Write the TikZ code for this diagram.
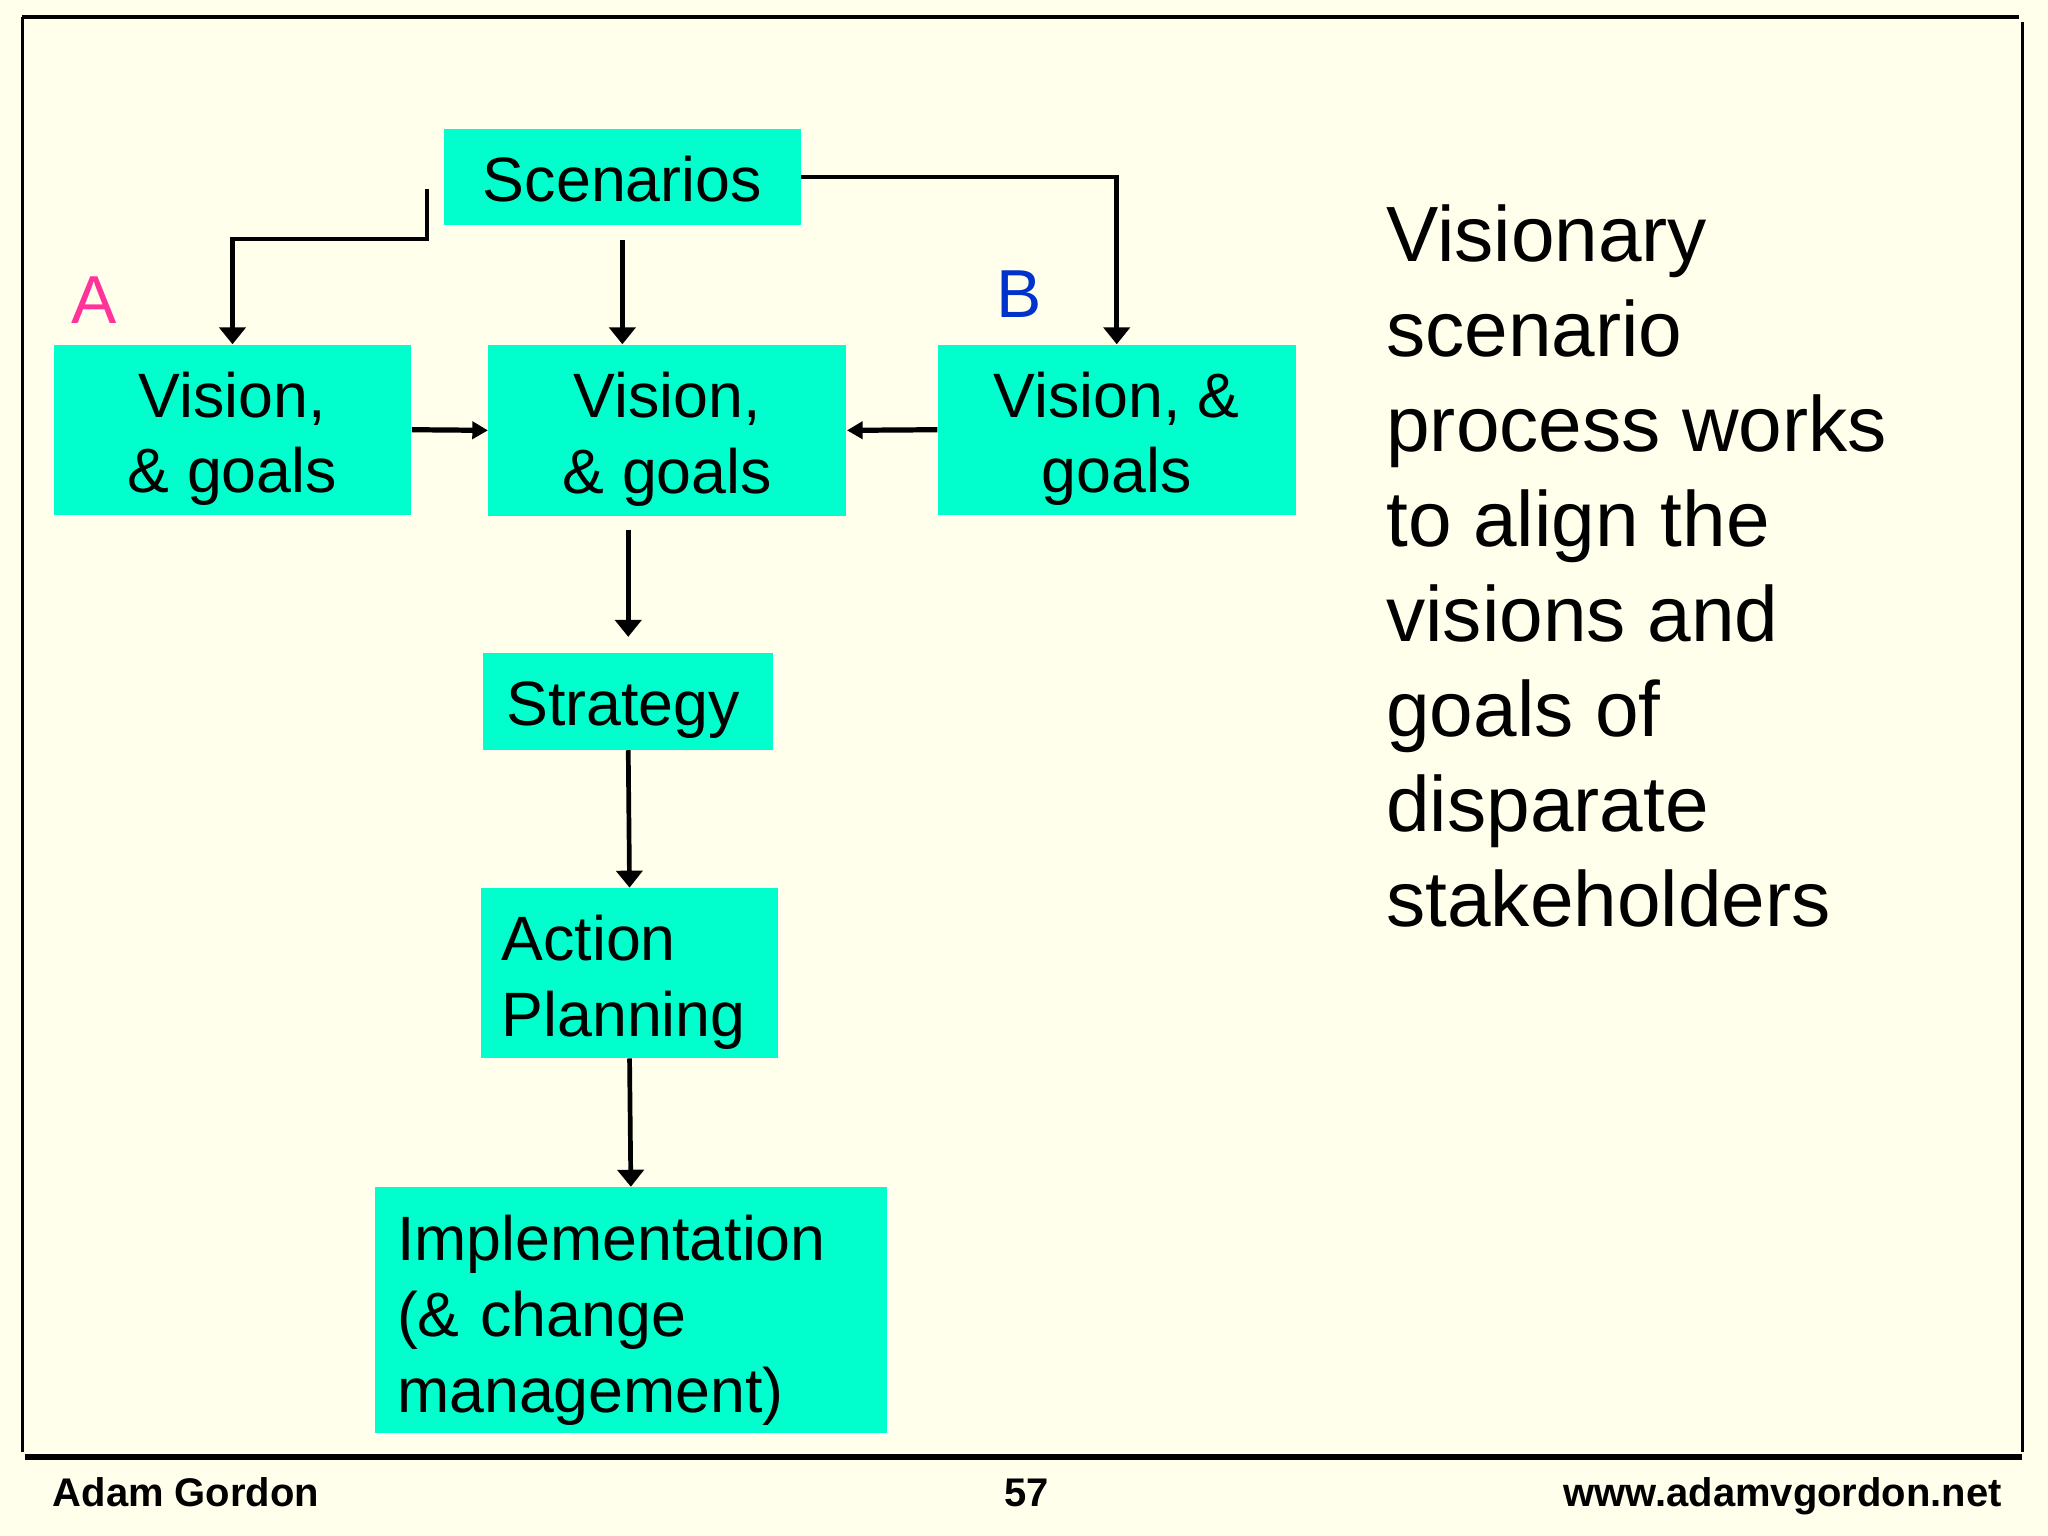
\documentclass[tikz,border=0pt]{standalone}
\usepackage{fontspec}
\setmainfont{Liberation Sans}
\usetikzlibrary{arrows.meta,calc}
\definecolor{bgc}{RGB}{255,255,235}
\definecolor{boxc}{RGB}{0,255,204}
\definecolor{pinkc}{RGB}{255,51,153}
\definecolor{bluec}{RGB}{0,51,204}
\tikzset{
  box/.style={fill=boxc, inner sep=0pt},
  btext/.style={inner sep=0pt, align=center, font=\fontsize{24}{29}\selectfont},
  ltext/.style={inner sep=0pt, align=left, font=\fontsize{24}{29}\selectfont},
  conn/.style={line width=1.8pt, -{Triangle[length=6.5pt,width=10pt]}},
  harrow/.style={line width=2pt, -{Triangle[length=6pt,width=6.5pt]}},
  frameline/.style={line width=1.3pt},
  lbl/.style={anchor=base, inner sep=0pt, font=\fontsize{26}{30}\selectfont},
  foot/.style={anchor=base, inner sep=0pt, font=\fontsize{15.3}{18}\selectfont\bfseries}
}
\begin{document}
\begin{tikzpicture}[x=0.5pt,y=-0.5pt]
\fill[bgc] (0,0) rectangle (1568,1176);
\useasboundingbox (0,0) rectangle (1568,1176);
% frame
\draw[frameline] (17,13) -- (1546,13);
\draw[frameline] (17,13) -- (17,1112);
\draw[frameline] (1548.5,17) -- (1548.5,1112);
\draw[line width=2pt] (19,1115.5) -- (1548,1115.5);
% boxes
\node[box, minimum width=136.5pt, minimum height=36.5pt,
  label={[btext, yshift=-1pt]center:Scenarios}] (scen) at (476.5,135.5) {};
\node[box, minimum width=137pt, minimum height=65pt,
  label={[btext, yshift=-3.5pt]center:Vision,\\ \& goals}] (va) at (178,329) {};
\node[box, minimum width=137pt, minimum height=65.5pt,
  label={[btext, yshift=-3.5pt]center:Vision,\\ \& goals}] (vm) at (511,329.5) {};
\node[box, minimum width=137pt, minimum height=65pt,
  label={[btext, yshift=-3.5pt]center:Vision, \&\\ goals}] (vb) at (855,329) {};
\node[box, minimum width=111pt, minimum height=37pt,
  label={[btext, yshift=-3.5pt, xshift=-2pt]center:Strategy}] (strat) at (481,537) {};
\node[box, minimum width=114pt, minimum height=65pt,
  label={[ltext, text width=98pt, yshift=-3.5pt]center:Action\\ Planning}] (act) at (482,745) {};
\node[box, minimum width=196pt, minimum height=94pt,
  label={[ltext, text width=179pt, yshift=-4pt]center:Implementation\\ (\& change\\ management)}] (impl) at (483,1003) {};
% labels
\node[lbl, text=pinkc] (la) at (72,248) {A};
\node[lbl, text=bluec] (lb) at (780,243) {B};
% connectors
\coordinate (sa) at (327,145);
\draw[conn] (sa) -- ++(0,38) -| (va.north);
\draw[conn] ([yshift=-5.5pt]scen.south) -- (scen.south |- vm.north);
\draw[conn] (scen.east) -| (vb.north);
\draw[harrow] (va.east) -- (vm.west);
\draw[harrow] (vb.west) -- (vm.east);
\draw[conn] ([yshift=-5pt]vm.south -| strat.north) -- ([yshift=6pt]strat.north);
\draw[conn] (strat.south) -- (act.north);
\draw[conn] (act.south) -- (impl.north);
% side text
\node[anchor=north west, inner sep=0pt, align=left, font=\fontsize{30}{36.35}\selectfont] (side) at (1061,156.5) {Visionary\\ scenario\\ process works\\ to align the\\ visions and\\ goals of\\ disparate\\ stakeholders};
% footer
\node[foot, anchor=base west] (fa) at (40,1153.5) {Adam Gordon};
\node[foot] (fn) at (786,1153.5) {57};
\node[foot, anchor=base east] (fw) at (1533,1153.5) {www.adamvgordon.net};
\end{tikzpicture}
\end{document}
